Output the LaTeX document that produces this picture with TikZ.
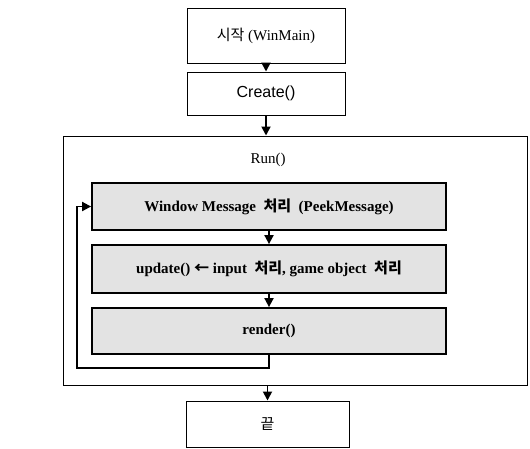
\documentclass[tikz,border=0pt]{standalone}
\usepackage{fontspec}
\setmainfont{Liberation Serif}
\newfontfamily\kr{Noto Sans CJK KR}
\newfontfamily\crsans{Liberation Sans}
\usepackage{tikz}
\usetikzlibrary{positioning, arrows.meta}

\tikzset{
  box/.style={draw, line width=1pt, minimum width=158pt, inner sep=0pt, font=\fontsize{15}{18}\selectfont},
  procbox/.style={draw, line width=1.8pt, fill=gray!22, minimum width=354pt, inner sep=0pt, font=\fontsize{15}{18}\selectfont\bfseries},
  flow/.style={line width=1.8pt, -{Triangle[length=9pt,width=9pt]}},
}

\begin{document}
\begin{tikzpicture}[x=1pt, y=1pt]
                \useasboundingbox (0, 0) rectangle (530, -448);

                \node[box, minimum height=55pt] (start) at (266, -35.5) {{\kr 시작} (WinMain)};
                \node[box, minimum height=43pt] (create) at (266, -93.5) {\crsans\fontsize{16}{18}\selectfont Create()};
                \node[draw, line width=1pt, minimum width=464pt, minimum height=249pt] (run) at (295, -260.5) {};
                \node[font=\fontsize{15}{18}\selectfont] (runlabel) at (268, -160) {Run()};
                \node[procbox, minimum height=47pt] (win) at (269, -206.5) {Window Message \ {\kr 처리} \ (PeekMessage)};
                \node[procbox, minimum height=48pt] (upd) at (269, -269) {update() {\kr ←} input \ {\kr 처리}, game object \ {\kr 처리}};
                \node[procbox, minimum height=46pt] (rend) at (269, -331) {render()};
                \node[box, minimum width=163pt, minimum height=46pt] (end) at (267.5, -424) {\kr 끝};
                \coordinate (loopc) at (77, -368);

                \draw[flow] (start) -- (create);
                \draw[flow] (create.south) -- (create.south |- run.north);
                \draw[flow] (win) -- (win.south |- upd.north);
                \draw[flow] (upd) -- (upd.south |- rend.north);
                \draw[flow] (rend.south) |- (loopc) |- (win.west);
                \draw[flow] (run.south -| end.north) -- (end);
            \end{tikzpicture}
\end{document}
